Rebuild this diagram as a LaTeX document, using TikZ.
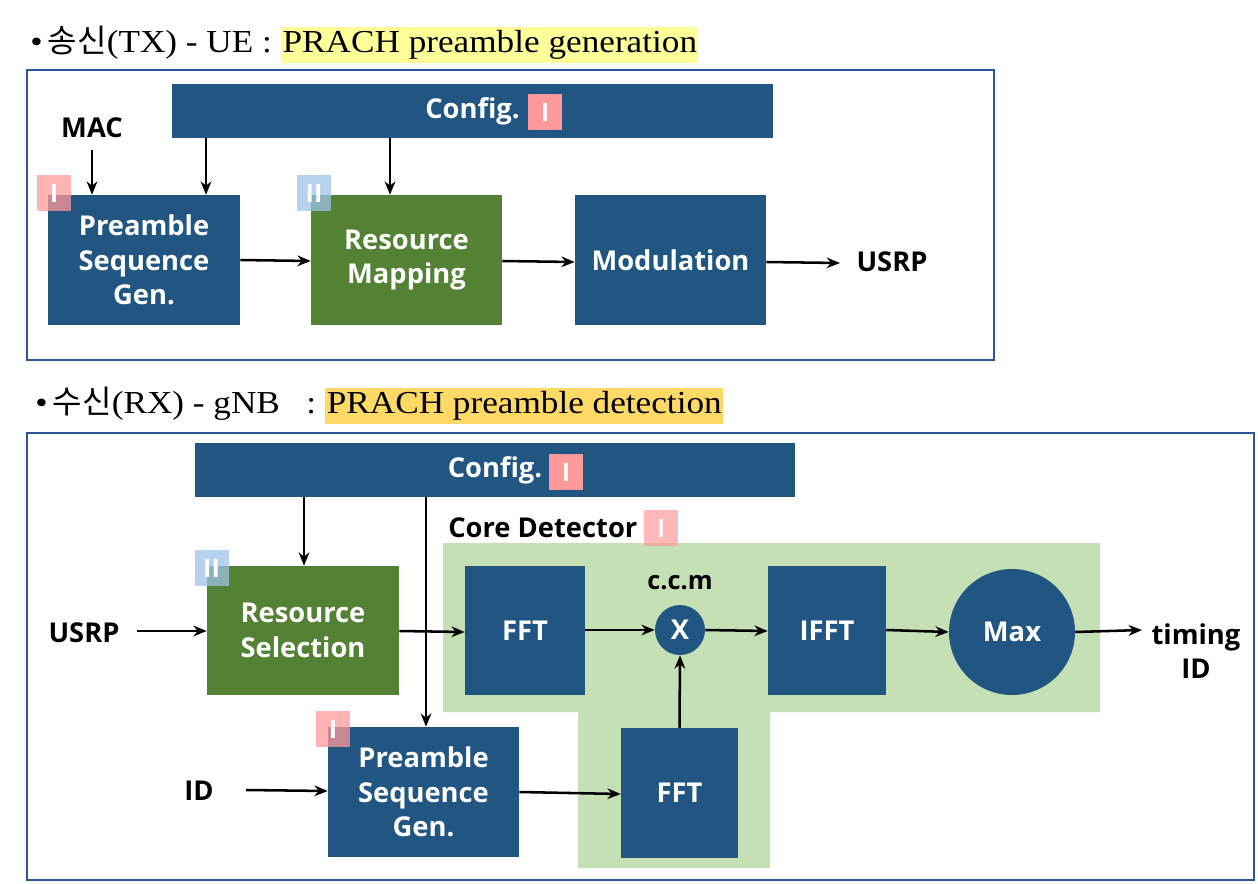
\documentclass[tikz,border=0pt]{standalone}
\usepackage{fontspec}
\setmainfont{Liberation Serif}
\newfontfamily\hdfont{Liberation Serif}[FakeStretch=1.1]
\newfontfamily\krfont{Noto Sans CJK KR}
\newfontfamily\labfont{Open Sans}
\usetikzlibrary{arrows.meta}
\definecolor{dblue}{HTML}{215682}
\definecolor{dgreen}{HTML}{548235}
\definecolor{lgreen}{HTML}{C5E0B4}
\definecolor{frameblue}{HTML}{2F5597}
\definecolor{hlyellow}{HTML}{FFFF99}
\definecolor{hlorange}{HTML}{FFD966}
\definecolor{bpink}{HTML}{FF9999}
\definecolor{bblue}{HTML}{9DC3E6}
\tikzset{
  blk/.style={fill=dblue, draw=none, inner sep=0pt, text=white, align=center,
    font=\labfont\bfseries\fontsize{20.5}{26}\selectfont},
  gblk/.style={blk, fill=dgreen},
  lbl/.style={inner sep=0pt, font=\labfont\bfseries\fontsize{20.5}{26}\selectfont, align=center},
  badge/.style={fill=bpink, fill opacity=0.75, text opacity=1, text=white, inner sep=0pt,
    minimum width=25.5pt, minimum height=27pt, font=\labfont\bfseries\fontsize{19}{20}\selectfont},
  sbadge/.style={badge, fill opacity=1},
  bbadge/.style={badge, fill=bblue},
  arr/.style={-{Stealth[length=10pt,width=8pt]}, line width=1.9pt, black},
  frame/.style={draw=frameblue, line width=1.6pt},
  head/.style={anchor=base west, inner xsep=0pt, inner ysep=2pt, text height=16.5pt, text depth=6pt,
    font=\hdfont\fontsize{24}{26}\selectfont},
}
\begin{document}
\begin{tikzpicture}[x=0.75pt, y=-0.75pt]
\useasboundingbox (0,0) rectangle (1258,883);
% ---------- TX ----------
\node[head] (h1a) at (30,52) {•\,{\krfont 송신}(TX) - UE :\ \ };
\node[head, fill=hlyellow, inner xsep=1pt] (h1b) at (h1a.base east) {PRACH preamble generation};
\draw[frame] (27,70) rectangle (994,360);
\node[blk, minimum width=451pt, minimum height=40.5pt] (cfg1) at (472.5,111) {Config.};
\node[sbadge] (b1) at (545,112) {I};
\node[lbl] (mac) at (92,128) {MAC};
\node[blk, minimum width=144pt, minimum height=97.5pt] (psg1) at (144,260) {Preamble\\Sequence\\Gen.};
\node[gblk, minimum width=143.25pt, minimum height=97.5pt] (rm) at (406.5,260) {Resource\\Mapping};
\node[blk, minimum width=143.25pt, minimum height=97.5pt] (mod) at (670.5,260) {Modulation};
\node[lbl] (usrp1) at (892,262) {USRP};
\node[badge] (b2) at (54,193) {I};
\node[bbadge] (b3) at (314,193) {II};
\draw[arr] (mac.south |- 0,150) -- (mac.south |- psg1.north);
\draw[arr] (206,0 |- cfg1.south) -- (206,0 |- psg1.north);
\draw[arr] (390,0 |- cfg1.south) -- (390,0 |- rm.north);
\draw[arr] (psg1.east |- 0,260) -- (rm.west |- 0,261);
\draw[arr] (rm.east |- 0,261) -- (mod.west |- 0,262);
\draw[arr] (mod.east |- 0,262) -- (840,263);
% ---------- RX ----------
\node[head] (h2a) at (35,413) {•\,{\krfont 수신}(RX) - gNB\ \ \ :\ \ };
\node[head, fill=hlorange, inner xsep=1pt] (h2b) at (h2a.base east) {PRACH preamble detection};
\draw[frame] (27,433) rectangle (1254,880);
\fill[lgreen] (443,543) -- (1100,543) -- (1100,712) -- (770,712) -- (770,868) -- (578,868) -- (578,712) -- (443,712) -- cycle;
\node[blk, minimum width=450pt, minimum height=40.5pt] (cfg2) at (495,470) {Config.};
\node[sbadge] (b4) at (566,472) {I};
\node[lbl, anchor=west] (core) at (448,528) {Core Detector};
\node[badge, fill opacity=0.7] (b5) at (661,528) {I};
\node[gblk, minimum width=144pt, minimum height=96.75pt] (rs) at (303,630.5) {Resource\\Selection};
\node[blk, minimum width=90pt, minimum height=96.75pt] (fft1) at (525,630.5) {FFT};
\node[blk, circle, minimum size=37.5pt] (mul) at (680,630) {X};
\node[lbl, font=\labfont\bfseries\fontsize{19}{20}\selectfont] (ccm) at (680,583) {c.c.m};
\node[blk, minimum width=88.5pt, minimum height=96.75pt] (ifft) at (827,630.5) {IFFT};
\node[blk, circle, minimum size=94.5pt] (max) at (1012,632) {Max};
\node[lbl] (timing) at (1196,651) {timing\\ID};
\node[blk, minimum width=143.25pt, minimum height=97.5pt] (psg2) at (423.5,792) {Preamble\\Sequence\\Gen.};
\node[blk, minimum width=87.75pt, minimum height=97.5pt] (fft2) at (679.5,793) {FFT};
\node[lbl] (usrp2) at (84,633) {USRP};
\node[lbl] (id) at (199,791) {ID};
\node[bbadge] (b6) at (211.5,568) {II};
\node[badge] (b7) at (333,729) {I};
\draw[arr] (304,0 |- cfg2.south) -- (304,0 |- rs.north);
\draw[arr] (426,0 |- cfg2.south) -- (426,0 |- psg2.north);
\draw[arr] (137,631) -- (rs.west |- 0,631);
\draw[arr] (rs.east |- 0,631) -- (fft1.west |- 0,632);
\draw[arr] (fft1.east |- 0,630) -- (mul.west);
\draw[arr] (mul.east) -- (ifft.west |- 0,631);
\draw[arr] (ifft.east |- 0,630) -- (max.west);
\draw[arr] (max.east) -- (1142,630);
\draw[arr] (fft2.north) -- (mul.south);
\draw[arr] (246,790) -- (psg2.west |- 0,791);
\draw[arr] (psg2.east |- 0,792) -- (fft2.west |- 0,794);
\end{tikzpicture}
\end{document}
